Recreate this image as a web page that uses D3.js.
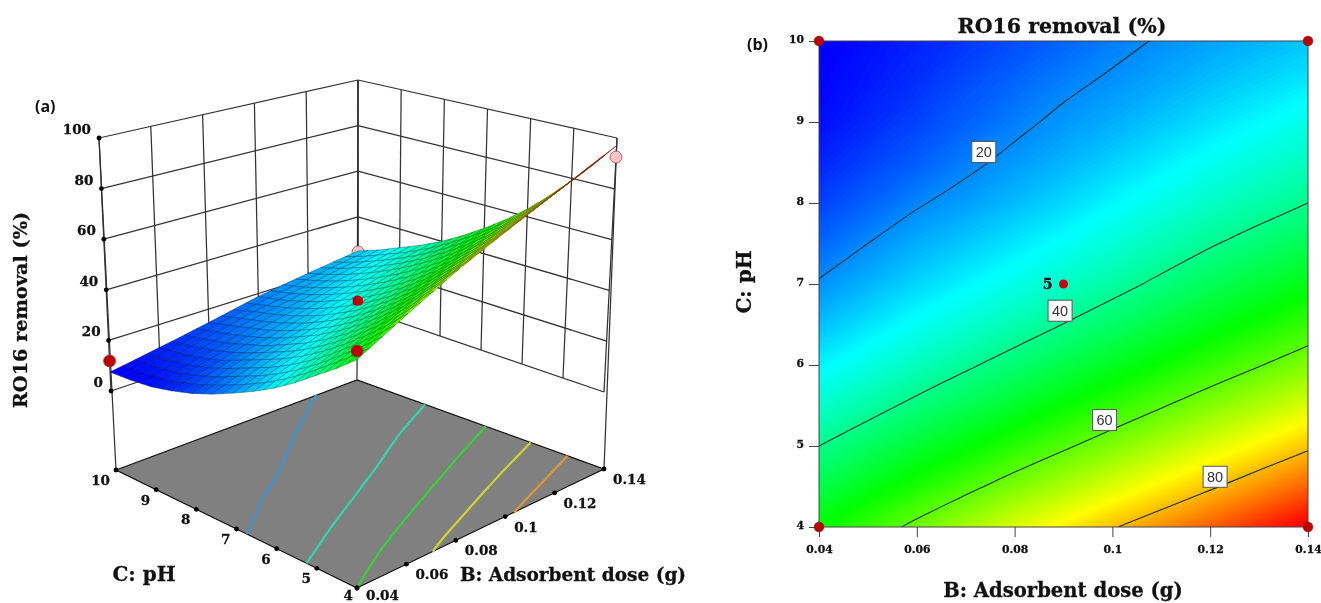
<!DOCTYPE html>
<html><head><meta charset="utf-8">
<script src="https://cdn.jsdelivr.net/npm/d3@7"></script>
<style>
html,body{margin:0;padding:0;background:#fff}
svg{display:block}
svg .blurred{filter:blur(0.4px)}
.ser{font-family:"DejaVu Serif",serif;font-weight:700;fill:#111;stroke:#111;stroke-width:0.3px}
</style></head><body>
<svg id="c" width="1321" height="603"></svg>
<script>
// ---------- data ----------
const doseValues = [0.04,0.05,0.06,0.07,0.08,0.09,0.10,0.11,0.12,0.13,0.14];
const phValues   = [4,4.5,5,5.5,6,6.5,7,7.5,8,8.5,9,9.5,10];
const removal = [
 [52,56.7,61.5,66.2,71,75.2,79.5,83.7,88,92.5,97],
 [45.7,49.9,54.2,58.4,62.7,66.8,71,75.1,79.2,83.4,87.7],
 [40,43.8,47.6,51.4,55.2,59.1,63,67,71,75,79],
 [34.2,37.8,41.4,44.9,48.5,52.1,55.8,59.5,63.3,67,70.8],
 [29,32.4,35.8,39.1,42.4,45.8,49.2,52.7,56.2,59.7,63.2],
 [24.5,27.6,30.8,33.8,36.9,40.1,43.3,46.6,50,53.2,56.5],
 [20.5,23.5,26.5,29.2,32,35,38,41.2,44.5,47.5,50.5],
 [16.7,20,23,25.4,27.9,30.6,33.5,36.5,39.5,42.2,45],
 [13.5,16.4,19.5,21.7,24.2,26.7,29.5,32.2,35,37.5,40],
 [11,13.6,16,18.9,21.2,23.6,26,28.5,31,33.4,35.7],
 [9,11.3,13.7,16.3,18.9,21,23,25.2,27.5,29.7,32],
 [8,10,12,14.5,16.7,19,20.6,22.5,24.5,26.3,28.2],
 [7.5,9.1,10.8,12.6,14.5,16.6,18.8,20.4,22,23.5,25]
];
const doseTicks = [0.04,0.06,0.08,0.1,0.12,0.14];
const phTicks = [4,5,6,7,8,9,10];
const removalTicks = [0,20,40,60,80,100];
const contourLevels = [20,40,60,80];
const contourLabelDose = [0.0737,0.0893,0.0984,0.121];
const contourLabelPh = [8.63,6.67,5.32,4.62];
const floorLevels = [22.5,37,52,66.5,81];
const floorColors = ["#3a96d2","#2fd8a6","#33d433","#c8d632","#e0952f"];
const colorStops = [8,30,52,74,96];
const colorNames = ["#0000ff","#00ffff","#00ff00","#ffff00","#ff0000"];
const designDose = [0.04,0.04,0.14,0.14];
const designPh = [4,10,4,10];
const pointsBelow = [{b:0.14,p:10,z:24.6,f:"#f6c4c6"},{b:0.14,p:4,z:92.5,f:"#f6c4c6"}];
const pointsAbove = [{b:0.04,p:10,z:11.9,f:"#c00000"},{b:0.04,p:4,z:55,f:"#c00000"}];
const centerPoint = {b:0.09,p:7,z:38.6};

const svg = d3.select("#c");
const color = d3.scaleLinear().domain(colorStops).range(colorNames).clamp(true);
const nx = doseValues.length, ny = phValues.length;
const flat = removal.flat();
const gridX = d3.scaleLinear().domain([0.5,nx-0.5]).range([doseValues[0],doseValues[nx-1]]);
const gridY = d3.scaleLinear().domain([0.5,ny-0.5]).range([phValues[0],phValues[ny-1]]);
const insideGrid = p => p[0]>=0.5&&p[0]<=nx-0.5&&p[1]>=0.5&&p[1]<=ny-0.5;
const contourGen = d3.contours().size([nx,ny]);
// open pieces of every contour, without the parts running along the table edge
function contourPieces(level){
  const out=[];
  contourGen.contour(flat,level).coordinates.forEach(poly=>poly.forEach(ring=>{
    let cur=[];
    ring.forEach(pt=>{
      if(insideGrid(pt)) cur.push(pt);
      else { if(cur.length>1) out.push(cur); cur=[]; }
    });
    if(cur.length>1) out.push(cur);
  }));
  return out;
}

// ========== panel (b) ==========
const xB = d3.scaleLinear().domain([0.04,0.14]).range([819,1308]);
const yB = d3.scaleLinear().domain([4,10]).range([527,41]);
const gb = svg.append("g").attr("class","blurred");
const defs = svg.append("defs");
defs.append("clipPath").attr("id","clipB").append("rect")
  .attr("x",819).attr("y",41).attr("width",489).attr("height",486);
const projB = d3.geoPath(d3.geoTransform({point(x,y){this.stream.point(xB(gridX(x)),yB(gridY(y)));}}));
const bands = d3.range(6,100,0.4);
const hm = gb.append("g").attr("clip-path","url(#clipB)");
hm.append("rect").attr("x",819).attr("y",41).attr("width",489).attr("height",486).attr("fill",color(6));
hm.selectAll("path.band").data(contourGen.thresholds(bands)(flat)).join("path")
  .attr("class","band").attr("d",projB).attr("fill",d=>color(d.value+0.2));
const lineB = d3.line().curve(d3.curveBasis).x(d=>xB(gridX(d[0]))).y(d=>yB(gridY(d[1])));
contourLevels.forEach(l=>{
  hm.selectAll(null).data(contourPieces(l)).join("path").attr("d",lineB)
    .attr("fill","none").attr("stroke","#15302a").attr("stroke-width",1.1);
});
gb.append("rect").attr("x",819).attr("y",41).attr("width",489).attr("height",486)
  .attr("fill","none").attr("stroke","#444").attr("stroke-width",1);
const axL = d3.axisLeft(yB).tickValues(phTicks).tickSize(10).tickPadding(5).tickFormat(d3.format("d"));
const axB = d3.axisBottom(xB).tickValues(doseTicks).tickSize(10).tickPadding(8).tickFormat(d=>String(d));
const gL = gb.append("g").attr("transform","translate(819,0)").call(axL);
const gBt = gb.append("g").attr("transform","translate(0,527)").call(axB);
[gL,gBt].forEach(g=>{
  g.select(".domain").remove();
  g.selectAll("line").attr("stroke","#444");
  g.selectAll("text").attr("class","ser").attr("font-size",10.8);
});
gL.selectAll("text").attr("dy","0.1em");
// contour labels
contourLevels.forEach((l,i)=>{
  const cx=xB(contourLabelDose[i]), cy=yB(contourLabelPh[i]);
  gb.append("rect").attr("x",cx-12).attr("y",cy-10.5).attr("width",24).attr("height",21)
    .attr("fill","#fff").attr("stroke","#555").attr("stroke-width",1);
  gb.append("text").attr("x",cx).attr("y",cy+5).attr("text-anchor","middle")
    .attr("font-family","Liberation Sans").attr("font-size",14.5).attr("fill","#333").text(l);
});
// design points
designDose.forEach((b,i)=>{
  gb.append("circle").attr("cx",xB(b)).attr("cy",yB(designPh[i])).attr("r",4.8)
    .attr("fill","#c00000").attr("stroke","#7a1010").attr("stroke-width",0.7);
});
gb.append("circle").attr("cx",xB(centerPoint.b)).attr("cy",yB(centerPoint.p)).attr("r",4.5).attr("fill","#d00010");
gb.append("text").attr("class","ser").attr("x",xB(centerPoint.b)-11).attr("y",yB(centerPoint.p)+5)
  .attr("text-anchor","end").attr("font-size",14).text("5");
gb.append("text").attr("class","ser").attr("x",1062).attr("y",33).attr("text-anchor","middle").attr("font-size",20.5).text("RO16 removal (%)");
gb.append("text").attr("class","ser").attr("x",1063).attr("y",597).attr("text-anchor","middle").attr("font-size",19.6).text("B: Adsorbent dose (g)");
gb.append("text").attr("class","ser").attr("transform","translate(751,282) rotate(-90)").attr("text-anchor","middle").attr("font-size",20).text("C: pH");
gb.append("text").attr("x",747).attr("y",50).attr("font-family","Open Sans").attr("font-weight",700).attr("font-size",16).attr("fill","#111").text("(b)");

// ========== panel (a) ==========
// the four upright edges of the box: floor, removal=0, removal=100
const cols = {
  L:{floor:[116,470],z0:[111,391],z1:[99,138]},
  K:{floor:[357,380],z0:[358,308],z1:[358,80]},
  R:{floor:[604,469],z0:[604,392],z1:[617,138]},
  F:{floor:[357,588],z0:[357,504],z1:[357,226]}
};
const uS = d3.scaleLinear().domain([0.04,0.14]).range([0,1]);
const vS = d3.scaleLinear().domain([4,10]).range([0,1]);
const zS = d3.scaleLinear().domain([0,100]).range([0,1]);
const lerp = (a,b,t)=>[a[0]+(b[0]-a[0])*t,a[1]+(b[1]-a[1])*t];
function bil(pF,pR,pL,pK,u,v){ return lerp(lerp(pF,pR,u),lerp(pL,pK,u),v); }
function colAt(c,z){ return lerp(c.z0,c.z1,zS(z)); }
function project(b,p,z){
  const u=uS(b), v=vS(p);
  return bil(colAt(cols.F,z),colAt(cols.R,z),colAt(cols.L,z),colAt(cols.K,z),u,v);
}
function projectFloor(b,p){
  return bil(cols.F.floor,cols.R.floor,cols.L.floor,cols.K.floor,uS(b),vS(p));
}
const ga = svg.append("g").attr("class","blurred");
const line = d3.line();
const wall = {stroke:"#333",w:1.25};
function seg(a,b,col,w){ ga.append("path").attr("d",line([a,b])).attr("fill","none").attr("stroke",col||wall.stroke).attr("stroke-width",w||wall.w); }
// floor
ga.append("path").attr("d",line([cols.F.floor,cols.R.floor,cols.K.floor,cols.L.floor])+"Z")
  .attr("fill","#808080").attr("stroke","#111").attr("stroke-width",1.2);
const floorLine = d3.line().curve(d3.curveBasis);
floorLevels.forEach((l,i)=>{
  ga.selectAll(null).data(contourPieces(l)).join("path")
    .attr("d",d=>floorLine(d.map(q=>projectFloor(gridX(q[0]),gridY(q[1])))))
    .attr("fill","none").attr("stroke",floorColors[i]).attr("stroke-width",2.2);
});
// upright edges
["L","K","R"].forEach(k=>seg(cols[k].floor,cols[k].z1));
// walls
removalTicks.forEach(z=>{
  seg(project(0.04,10,z),project(0.14,10,z));
  seg(project(0.14,10,z),project(0.14,4,z));
});
doseTicks.forEach(b=>seg(project(b,10,0),project(b,10,100)));
phTicks.forEach(p=>seg(project(0.14,p,0),project(0.14,p,100)));
// axis dots + labels
const dot=(p,r)=>ga.append("circle").attr("cx",p[0]).attr("cy",p[1]).attr("r",r||2.4).attr("fill","#000");
removalTicks.forEach(z=>{
  const p=project(0.04,10,z); dot(p);
  ga.append("text").attr("class","ser").attr("x",p[0]-8).attr("y",p[1]-4).attr("text-anchor","end").attr("font-size",13.5).text(z);
});
phTicks.forEach(t=>{
  const p=projectFloor(0.04,t); dot(p);
  ga.append("text").attr("class","ser").attr("x",p[0]-(t===4?4:6)).attr("y",p[1]+(t===4?12:15)).attr("text-anchor","end").attr("font-size",13.5).text(t);
});
doseTicks.forEach(t=>{
  const p=projectFloor(t,4); dot(p);
  ga.append("text").attr("class","ser").attr("x",p[0]+9).attr("y",p[1]+(t===0.04?12:15)).attr("font-size",13.5).text(String(t));
});
// points behind the surface
const pointMark=d=>{const p=project(d.b,d.p,d.z);
  ga.append("circle").attr("cx",p[0]).attr("cy",p[1]).attr("r",d.r||6).attr("fill",d.f).attr("stroke","#8a3a3a").attr("stroke-width",0.7);};
pointsBelow.forEach(pointMark);
// surface, painted back to front; each table cell is split in two for a finer mesh
const zAt=(i,j)=>removal[j][i];
const quads=[];
const sub=2;
for(let j=ny-2;j>=0;j--){ for(let i=nx-2;i>=0;i--){
  for(let sj=sub-1;sj>=0;sj--){ for(let si=sub-1;si>=0;si--){
    const vert=(a,c)=>{
      const ta=a/sub,tc=c/sub;
      const b=doseValues[i]+(doseValues[i+1]-doseValues[i])*ta;
      const p=phValues[j]+(phValues[j+1]-phValues[j])*tc;
      const z=(zAt(i,j)*(1-ta)+zAt(i+1,j)*ta)*(1-tc)+(zAt(i,j+1)*(1-ta)+zAt(i+1,j+1)*ta)*tc;
      return {pt:project(b,p,z),z};
    };
    const q=[vert(si,sj),vert(si+1,sj),vert(si+1,sj+1),vert(si,sj+1)];
    quads.push({d:line(q.map(o=>o.pt))+"Z",z:d3.mean(q,o=>o.z)});
  }}
}}
ga.append("g").selectAll("path").data(quads).join("path")
  .attr("d",d=>d.d).attr("fill",d=>color(d.z))
  .attr("stroke",d=>d3.color(color(d.z)).darker(2)).attr("stroke-width",0.55).attr("stroke-linejoin","round");
// points on top
pointsAbove.forEach(pointMark);
// the centre point pokes partly through the surface
const cp=project(centerPoint.b,centerPoint.p,centerPoint.z);
defs.append("clipPath").attr("id","clipC").append("rect")
  .attr("x",cp[0]-5).attr("y",cp[1]-8).attr("width",14).attr("height",12.5);
ga.append("g").attr("clip-path","url(#clipC)").append("circle")
  .attr("cx",cp[0]).attr("cy",cp[1]).attr("r",5.6).attr("fill","#c00000");
ga.append("text").attr("class","ser").attr("transform","translate(27,310) rotate(-90)").attr("text-anchor","middle").attr("font-size",19.3).text("RO16 removal (%)");
ga.append("text").attr("class","ser").attr("x",144).attr("y",581).attr("text-anchor","middle").attr("font-size",20).text("C: pH");
ga.append("text").attr("class","ser").attr("x",573).attr("y",581).attr("text-anchor","middle").attr("font-size",18.5).text("B: Adsorbent dose (g)");
ga.append("text").attr("x",35).attr("y",112).attr("font-family","Open Sans").attr("font-weight",700).attr("font-size",16).attr("fill","#111").text("(a)");
</script>
</body></html>
